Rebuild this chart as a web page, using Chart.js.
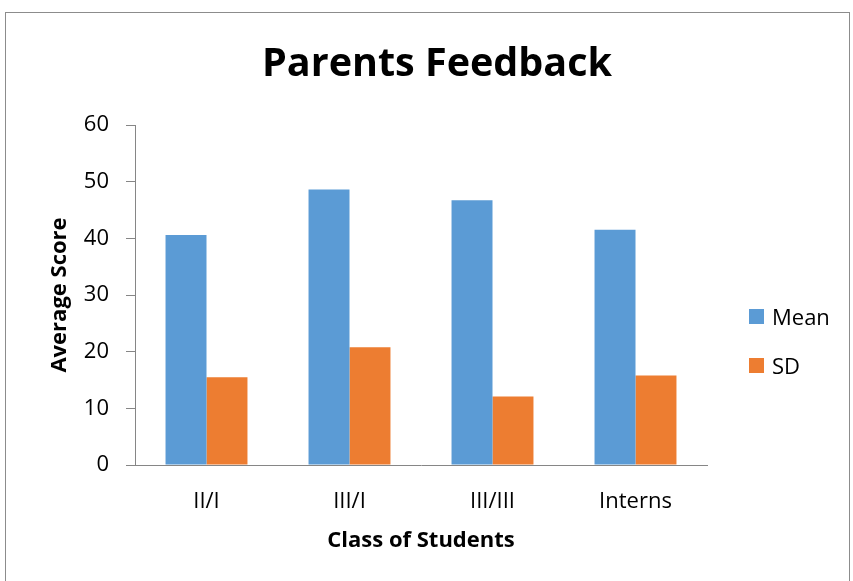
<!DOCTYPE html>
<html>
<head>
<meta charset="utf-8">
<script src="https://cdn.jsdelivr.net/npm/chart.js@4/dist/chart.umd.min.js"></script>
<style>
  body { margin: 0; background: #fff; }
  #wrap { position: relative; width: 853px; height: 581px; overflow: hidden; }
  #frame { position: absolute; left: 5px; top: 12px; width: 845px; height: 600px; border: 1px solid #8c8c8c; box-sizing: border-box; }
  #parentsChart { position: absolute; left: 0; top: 0; }
  #legend { position: absolute; left: 749px; top: 301px; font-family: "Open Sans", sans-serif; font-size: 22px; color: #000; }
  #legend div { display: flex; align-items: center; height: 30px; margin-bottom: 19px; }
  #legend span.box { display: inline-block; width: 15px; height: 15px; margin-right: 8px; }
</style>
</head>
<body>
<div id="wrap">
  <div id="frame"></div>
  <canvas id="parentsChart" width="853" height="581"></canvas>
  <div id="legend"></div>
</div>
<script>
var classes = ["II/I", "III/I", "III/III", "Interns"];
var meanScores = [40.6, 48.6, 46.7, 41.5];
var sdScores = [15.5, 20.8, 12.1, 15.8];

var axisGrey = "#868686";
var font = "Open Sans";

var ctx = document.getElementById("parentsChart").getContext("2d");

var parentsChart = new Chart(ctx, {
  type: "bar",
  data: {
    labels: classes,
    datasets: [
      {
        label: "Mean",
        data: meanScores,
        backgroundColor: "#5b9bd5",
      },
      {
        label: "SD",
        data: sdScores,
        backgroundColor: "#ed7d31",
      },
    ],
  },
  options: {
    responsive: false,
    animation: false,
    layout: {
      padding: { top: 12, right: 0, bottom: 0, left: 21 },
    },
    datasets: {
      bar: {
        categoryPercentage: 0.573,
        barPercentage: 1,
      },
    },
    plugins: {
      legend: { display: false },
      tooltip: { enabled: false },
      title: {
        display: true,
        text: "Parents Feedback",
        color: "#000",
        font: { family: font, size: 39.5, weight: "bold", lineHeight: 1.2 },
        padding: { top: 29.3, bottom: 36.3 },
      },
    },
    scales: {
      x: {
        grid: { display: false, drawTicks: false },
        border: { display: true, color: axisGrey, width: 1 },
        ticks: {
          color: "#000",
          font: { family: font, size: 22 },
          padding: 24,
        },
        title: {
          display: true,
          text: "Class of Students",
          color: "#000",
          font: { family: font, size: 22, weight: "bold", lineHeight: 1.2 },
          padding: { top: 0, bottom: 27.5 },
        },
        afterFit: function (scale) {
          scale.height = 116;
        },
      },
      y: {
        min: 0,
        max: 60,
        ticks: {
          stepSize: 10,
          color: "#000",
          font: { family: font, size: 22 },
          padding: 17,
        },
        grid: {
          drawOnChartArea: false,
          color: axisGrey,
          tickLength: 9,
        },
        border: { display: true, color: axisGrey, width: 1 },
        title: {
          display: true,
          text: "Average Score",
          color: "#000",
          font: { family: font, size: 22, weight: "bold", lineHeight: 1.2 },
          padding: { top: 25.8, bottom: 0 },
        },
        afterFit: function (scale) {
          scale.width = 114;
        },
      },
      // empty axis on the right keeps room for the legend
      legendSpace: {
        type: "linear",
        axis: "y",
        position: "right",
        grid: { display: false },
        border: { display: false },
        ticks: { display: false },
        afterFit: function (scale) {
          scale.width = 146;
        },
      },
    },
  },
});

// legend built from the chart's datasets
var legendEl = document.getElementById("legend");
parentsChart.data.datasets.forEach(function (ds) {
  var row = document.createElement("div");
  var box = document.createElement("span");
  box.className = "box";
  box.style.background = ds.backgroundColor;
  row.appendChild(box);
  row.appendChild(document.createTextNode(ds.label));
  legendEl.appendChild(row);
});
</script>
</body>
</html>
